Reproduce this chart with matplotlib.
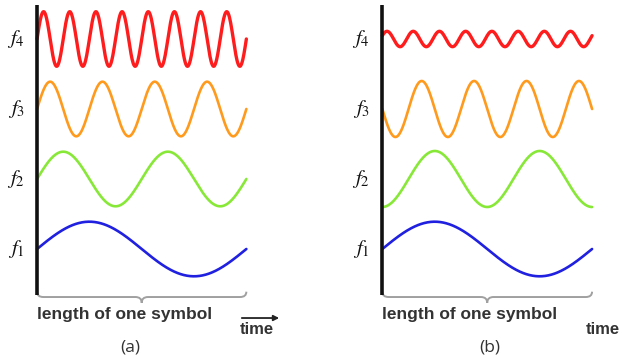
import numpy as np
import matplotlib
matplotlib.use("Agg")
import matplotlib.pyplot as plt
from matplotlib.path import Path
from matplotlib.patches import PathPatch

##  Frequency-shift keying sketch: four carriers f1..f4 over one symbol.
##  (a) equal amplitudes, (b) same tones but f4 attenuated and other phases.

labels = ["$f_1$", "$f_2$", "$f_3$", "$f_4$"]
cycles = [1, 2, 4, 8]                 # cycles per symbol
levels = [1, 2, 3, 4]                 # baseline of each tone
colors = ["#2020e0", "#88e838", "#ff9a1c", "#ff1c1c"]

amp_a = [0.39, 0.39, 0.39, 0.39]
phase_a = [0.0, 0.0, 0.0, 0.0]
amp_b = [0.39, 0.40, 0.40, 0.11]
phase_b = [0.0, -np.pi / 2, np.pi, 0.45]

panels = [("(a)", amp_a, phase_a), ("(b)", amp_b, phase_b)]

plt.rcParams['mathtext.fontset'] = 'stix'

fig = plt.figure(figsize=(6.25, 3.61), dpi=100)
ax_a = fig.add_axes([0, 0, 0.5, 1])
ax_b = fig.add_axes([0.5, 0, 0.5, 1])

# x limits so that t=0..1 lands on the drawn symbol span in each half
xlims = [(-0.177, 1.316), (-0.333, 1.157)]
cap_x = [0.445, 0.514]

t = np.linspace(0, 1, 600)

for ax, (cap, amps, phases), xl, cx in zip([ax_a, ax_b], panels, xlims, cap_x):
    ax.set_xlim(*xl)
    ax.set_ylim(-0.6, 4.557)
    ax.axis('off')

    for lab, n, lev, c, a, ph in zip(labels, cycles, levels, colors, amps, phases):
        y = lev + a * np.sin(2 * np.pi * n * t + ph)
        lw = 2.4 if n == 8 else 1.9
        ax.plot(t, y, color=c, lw=lw, solid_capstyle='round')
        ax.text(-0.10, lev, lab, fontsize=15, ha='center', va='center', color='#111')

    # vertical time-origin bar
    ax.plot([0, 0], [4.486, 0.343], color='#111', lw=2.6, solid_capstyle='butt')

    # brace under the symbol
    verts = [(0, 0.39), (0, 0.314), (0.03, 0.314), (0.47, 0.314),
             (0.5, 0.314), (0.5, 0.23), (0.5, 0.314), (0.53, 0.314),
             (0.97, 0.314), (1.0, 0.314), (1.0, 0.39)]
    codes = [Path.MOVETO, Path.CURVE3, Path.CURVE3, Path.LINETO,
             Path.CURVE3, Path.CURVE3, Path.CURVE3, Path.CURVE3,
             Path.LINETO, Path.CURVE3, Path.CURVE3]
    ax.add_patch(PathPatch(Path(verts, codes), fill=False, edgecolor='#a0a0a0', lw=1.4))

    ax.text(0.0, 0.071, "length of one symbol", fontsize=12.5, fontweight='bold',
            family='Liberation Sans', ha='left', va='center', color='#333')
    ax.text(0.97, -0.157, "time", fontsize=12, fontweight='bold',
            family='Liberation Sans', ha='left', va='center', color='#333')
    ax.annotate('', xy=(1.17, 0.014), xytext=(0.965, 0.014),
                arrowprops=dict(arrowstyle='-|>', color='#222', lw=1.3, mutation_scale=8))
    ax.text(cx, -0.414, cap, fontsize=12.5, family='Open Sans', ha='center', va='center',
            color='#333')

plt.savefig("out.png", dpi=100)
